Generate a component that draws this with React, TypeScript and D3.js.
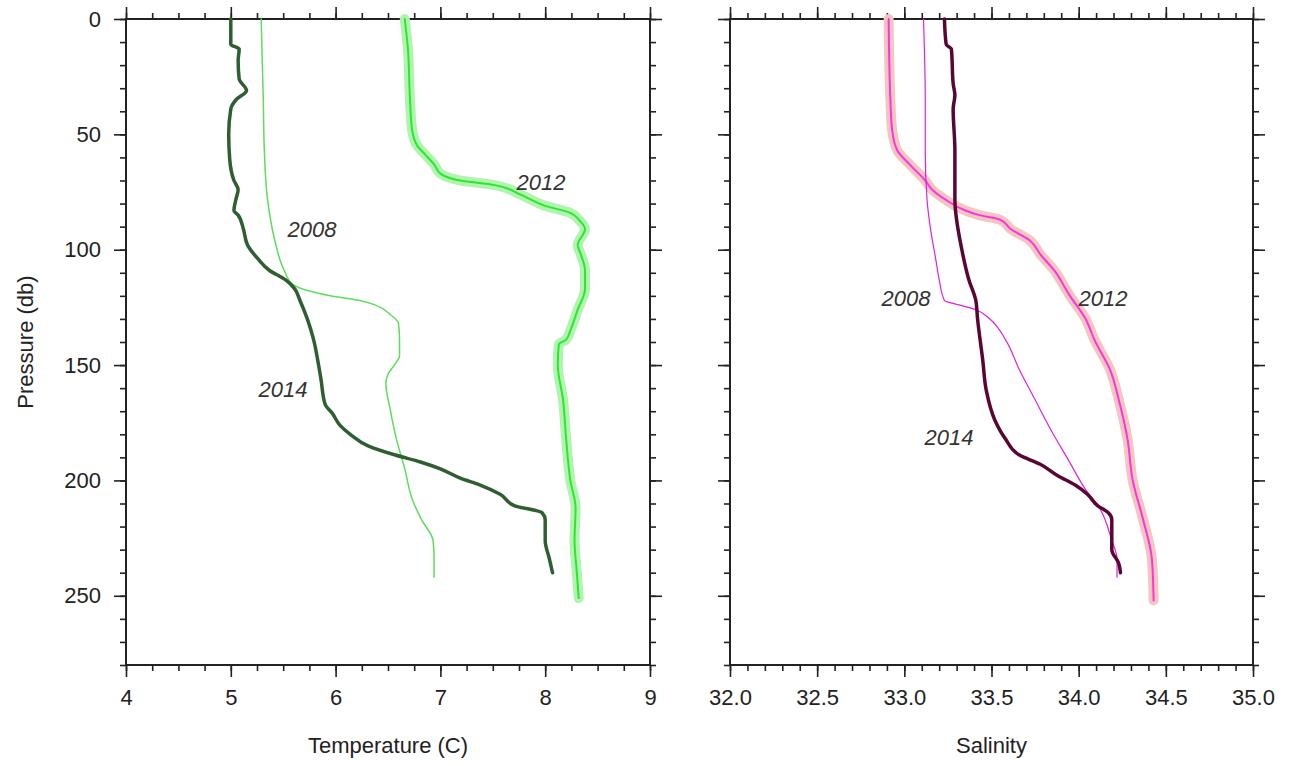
import { useEffect, useRef } from "react";
import * as d3 from "d3";

// Temperature profiles (pressure in db, temperature in C)
const temp2008P = [0, 35, 57, 78, 96, 109, 115, 118, 120, 122, 124, 128, 132, 139, 146, 150, 154, 158, 169, 182, 195, 208, 217, 226, 234, 242];
const temp2008T = [5.29, 5.31, 5.32, 5.35, 5.42, 5.51, 5.59, 5.76, 5.95, 6.23, 6.38, 6.52, 6.6, 6.61, 6.61, 6.56, 6.5, 6.48, 6.52, 6.58, 6.66, 6.73, 6.82, 6.93, 6.94, 6.94];

const temp2012P = [0, 13, 35, 48, 55, 59, 63, 67, 70, 72, 76, 81, 84, 87, 91, 98, 102, 109, 117, 126, 135, 139, 141, 150, 165, 182, 200, 212, 226, 239, 251];
const temp2012T = [6.66, 6.69, 6.71, 6.73, 6.78, 6.86, 6.94, 7.0, 7.19, 7.52, 7.76, 8.0, 8.24, 8.32, 8.38, 8.31, 8.34, 8.38, 8.38, 8.31, 8.24, 8.2, 8.13, 8.12, 8.17, 8.2, 8.24, 8.29, 8.28, 8.3, 8.32];

const temp2014P = [0, 11, 13, 18, 26, 31, 35, 39, 50, 61, 70, 74, 78, 83, 85, 91, 98, 104, 109, 113, 117, 122, 130, 139, 148, 156, 167, 171, 176, 180, 185, 189, 192, 195, 199, 202, 206, 211, 214, 217, 226, 234, 240];
const temp2014T = [5.0, 5.0, 5.08, 5.07, 5.08, 5.15, 5.05, 5.0, 4.98, 4.99, 5.03, 5.07, 5.05, 5.03, 5.07, 5.12, 5.16, 5.26, 5.37, 5.52, 5.61, 5.66, 5.73, 5.79, 5.83, 5.86, 5.9, 5.97, 6.04, 6.14, 6.31, 6.57, 6.81, 7.0, 7.19, 7.38, 7.57, 7.71, 7.97, 8.0, 8.0, 8.04, 8.07];

// Salinity profiles
const sal2008P = [0, 35, 57, 78, 91, 104, 113, 122, 124, 126, 130, 139, 152, 165, 178, 191, 204, 212, 226, 234, 242];
const sal2008S = [33.11, 33.12, 33.12, 33.13, 33.15, 33.18, 33.2, 33.23, 33.32, 33.41, 33.49, 33.58, 33.66, 33.75, 33.84, 33.94, 34.04, 34.12, 34.19, 34.22, 34.22];

const sal2012P = [0, 35, 48, 57, 63, 70, 74, 78, 83, 85, 87, 91, 96, 102, 109, 120, 130, 139, 152, 165, 182, 200, 217, 234, 252];
const sal2012S = [32.91, 32.92, 32.93, 32.96, 33.03, 33.12, 33.16, 33.23, 33.35, 33.43, 33.55, 33.61, 33.72, 33.78, 33.86, 33.95, 34.04, 34.09, 34.18, 34.23, 34.28, 34.31, 34.37, 34.42, 34.43];

const sal2014P = [0, 11, 13, 28, 33, 39, 57, 78, 100, 113, 122, 130, 148, 161, 174, 182, 189, 193, 198, 202, 206, 211, 214, 217, 230, 236, 240];
const sal2014S = [33.23, 33.24, 33.27, 33.28, 33.29, 33.28, 33.29, 33.29, 33.33, 33.37, 33.41, 33.42, 33.45, 33.47, 33.52, 33.58, 33.66, 33.78, 33.88, 33.98, 34.05, 34.11, 34.17, 34.19, 34.19, 34.23, 34.24];

const pressureTicks = [0, 50, 100, 150, 200, 250];
const tempTicks = [4, 5, 6, 7, 8, 9];
const salTicks = [32.0, 32.5, 33.0, 33.5, 34.0, 34.5, 35.0];

const FONT = "'Liberation Sans', Arial, Helvetica, sans-serif";

export default function App() {
  const svgRef = useRef<SVGSVGElement>(null);

  useEffect(() => {
    if (!svgRef.current) return;
    const svg = d3.select(svgRef.current);
    svg.selectAll("*").remove();

    const top = 19;
    const bottom = 665;
    const y = d3.scaleLinear().domain([0, 280]).range([top, bottom]);

    const drawPanel = (
      left: number,
      right: number,
      domain: [number, number],
      majors: number[],
      minorStep: number,
      fmt: (v: number) => string,
      showY: boolean,
      title: string
    ) => {
      const x = d3.scaleLinear().domain(domain).range([left, right]);
      const g = svg.append("g");
      const minors = d3.range(domain[0], domain[1] + minorStep / 2, minorStep);
      const pMinors = d3.range(0, 281, 10);

      const style = (sel: d3.Selection<SVGGElement, unknown, null, undefined>) => {
        sel.select(".domain").remove();
        sel.selectAll("line").attr("stroke", "#222").attr("stroke-width", 1.6);
        sel.selectAll("text").attr("font-family", FONT).attr("font-size", 22).attr("fill", "#222");
      };

      // minor ticks
      g.append("g").attr("transform", `translate(0,${top})`)
        .call(d3.axisTop(x).tickValues(minors).tickSize(6).tickFormat(() => "")).call(style);
      g.append("g").attr("transform", `translate(0,${bottom})`)
        .call(d3.axisBottom(x).tickValues(minors).tickSize(6).tickFormat(() => "")).call(style);
      g.append("g").attr("transform", `translate(${left},0)`)
        .call(d3.axisLeft(y).tickValues(pMinors).tickSize(6).tickFormat(() => "")).call(style);
      g.append("g").attr("transform", `translate(${right},0)`)
        .call(d3.axisRight(y).tickValues(pMinors).tickSize(6).tickFormat(() => "")).call(style);

      // major ticks
      g.append("g").attr("transform", `translate(0,${top})`)
        .call(d3.axisTop(x).tickValues(majors).tickSize(12).tickFormat(() => "")).call(style);
      g.append("g").attr("transform", `translate(0,${bottom})`)
        .call(d3.axisBottom(x).tickValues(majors).tickSize(12).tickPadding(12).tickFormat(d => fmt(d as number))).call(style);
      g.append("g").attr("transform", `translate(${left},0)`)
        .call(d3.axisLeft(y).tickValues(pressureTicks).tickSize(12).tickPadding(13)
          .tickFormat(d => (showY ? String(d) : ""))).call(style);
      g.append("g").attr("transform", `translate(${right},0)`)
        .call(d3.axisRight(y).tickValues(pressureTicks).tickSize(12).tickFormat(() => "")).call(style);

      // frame
      g.append("rect")
        .attr("x", left).attr("y", top)
        .attr("width", right - left).attr("height", bottom - top)
        .attr("fill", "none").attr("stroke", "#222").attr("stroke-width", 2);

      g.append("text")
        .attr("x", (left + right) / 2).attr("y", 753)
        .attr("text-anchor", "middle")
        .attr("font-family", FONT).attr("font-size", 22).attr("fill", "#222")
        .text(title);

      return x;
    };

    const xT = drawPanel(126, 650, [4, 9], tempTicks, 0.25, v => String(v), true, "Temperature (C)");
    const xS = drawPanel(730, 1253, [32, 35], salTicks, 0.1, v => d3.format(".1f")(v), false, "Salinity");

    svg.append("text")
      .attr("transform", `translate(33,${(top + bottom) / 2}) rotate(-90)`)
      .attr("text-anchor", "middle")
      .attr("font-family", FONT).attr("font-size", 22).attr("fill", "#222")
      .text("Pressure (db)");

    const plot = (
      x: d3.ScaleLinear<number, number>,
      ps: number[],
      vs: number[],
      color: string,
      width: number
    ) => {
      const line = d3.line<number>()
        .x((_, i) => x(vs[i]))
        .y(p => y(p))
        .curve(d3.curveMonotoneY);
      svg.append("path")
        .attr("d", line(ps))
        .attr("fill", "none")
        .attr("stroke", color)
        .attr("stroke-width", width)
        .attr("stroke-linejoin", "round")
        .attr("stroke-linecap", "round");
    };

    // temperature
    plot(xT, temp2012P, temp2012T, "#b4f2b4", 10);
    plot(xT, temp2012P, temp2012T, "#22ee22", 2);
    plot(xT, temp2008P, temp2008T, "#5ddc5d", 1.5);
    plot(xT, temp2014P, temp2014T, "#2f5e30", 3.5);

    // salinity
    plot(xS, sal2012P, sal2012S, "#f4c6c2", 10);
    plot(xS, sal2012P, sal2012S, "#ff33dd", 2);
    plot(xS, sal2008P, sal2008S, "#dd22dd", 1.2);
    plot(xS, sal2014P, sal2014S, "#5a0634", 3.5);

    const labels = [
      { x: 541, y: 190, t: "2012" },
      { x: 312, y: 237, t: "2008" },
      { x: 283, y: 397, t: "2014" },
      { x: 906, y: 306, t: "2008" },
      { x: 1103, y: 306, t: "2012" },
      { x: 949, y: 445, t: "2014" },
    ];
    svg.selectAll("text.yr")
      .data(labels)
      .join("text")
      .attr("class", "yr")
      .attr("x", d => d.x).attr("y", d => d.y)
      .attr("text-anchor", "middle")
      .attr("font-family", FONT).attr("font-size", 22)
      .attr("font-style", "italic").attr("fill", "#333")
      .text(d => d.t);
  }, []);

  return (
    <svg
      ref={svgRef}
      width={1289}
      height={766}
      style={{ position: "absolute", left: 0, top: 0, background: "#fff" }}
    />
  );
}
